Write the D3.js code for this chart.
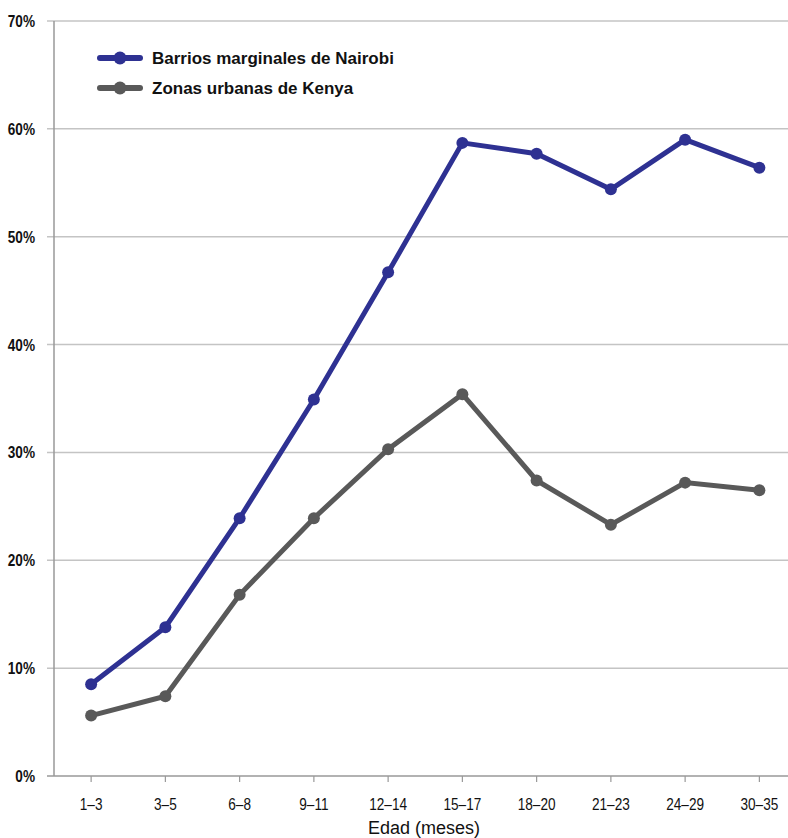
<!DOCTYPE html>
<html>
<head>
<meta charset="utf-8">
<script src="https://cdn.jsdelivr.net/npm/d3@7"></script>
<style>
  body { margin: 0; background: #fff; }
  .tick-y { font-family: "Liberation Sans", Arial, sans-serif; font-weight: bold; font-size: 17px; fill: #111; }
  .tick-x { font-family: "Liberation Sans", Arial, sans-serif; font-size: 17px; fill: #111; }
  .legend { font-family: "Liberation Sans", Arial, sans-serif; font-weight: bold; font-size: 17px; fill: #111; }
  .axis-title { font-family: "Liberation Sans", Arial, sans-serif; font-size: 18px; fill: #111; }
</style>
</head>
<body>
<svg id="chart" width="788" height="838"></svg>
<script>
// categories (age groups) and series values, in percent
const ages = ['1–3', '3–5', '6–8', '9–11', '12–14', '15–17', '18–20', '21–23', '24–29', '30–35'];
const nairobi = [8.5, 13.8, 23.9, 34.9, 46.7, 58.7, 57.7, 54.4, 59.0, 56.4];
const kenya = [5.6, 7.4, 16.8, 23.9, 30.3, 35.4, 27.4, 23.3, 27.2, 26.5];
const yTicks = [0, 10, 20, 30, 40, 50, 60, 70];

const seriesNames = ['Barrios marginales de Nairobi', 'Zonas urbanas de Kenya'];
const seriesColors = ['#2e3192', '#595959'];

const svg = d3.select('#chart');
const plotLeft = 54, plotRight = 796.5, plotTop = 21, plotBottom = 776;
const narrow = 0.8; // condensed look for tick labels

let x = d3.scalePoint()
    .domain(ages)
    .range([plotLeft, plotRight])
    .padding(0.5);

let y = d3.scaleLinear()
    .domain([0, 70])
    .range([plotBottom, plotTop]);

// gridlines
svg.selectAll('.grid')
    .data(yTicks.filter(d => d > 0))
    .enter()
    .append('line')
    .attr('x1', plotLeft - 7)
    .attr('x2', 788)
    .attr('y1', d => y(d))
    .attr('y2', d => y(d))
    .attr('stroke', '#c4c4c4')
    .attr('stroke-width', 1.5);

// y axis line
svg.append('line')
    .attr('x1', plotLeft).attr('x2', plotLeft)
    .attr('y1', plotTop).attr('y2', plotBottom)
    .attr('stroke', '#999').attr('stroke-width', 1.5);

// x axis line
svg.append('line')
    .attr('x1', plotLeft - 7).attr('x2', 788)
    .attr('y1', plotBottom).attr('y2', plotBottom)
    .attr('stroke', '#999').attr('stroke-width', 1.5);

// y labels
svg.selectAll('.tick-y')
    .data(yTicks)
    .enter()
    .append('text')
    .attr('class', 'tick-y')
    .attr('transform', d => 'translate(35,' + (y(d) + 6) + ') scale(' + narrow + ',1)')
    .attr('text-anchor', 'end')
    .text(d => d + '%');

// x ticks and labels
svg.selectAll('.xtick')
    .data(ages)
    .enter()
    .append('line')
    .attr('x1', d => x(d)).attr('x2', d => x(d))
    .attr('y1', plotBottom).attr('y2', plotBottom + 6)
    .attr('stroke', '#999').attr('stroke-width', 1.2);

svg.selectAll('.tick-x')
    .data(ages)
    .enter()
    .append('text')
    .attr('class', 'tick-x')
    .attr('transform', d => 'translate(' + x(d) + ',810) scale(' + narrow + ',1)')
    .attr('text-anchor', 'middle')
    .text(d => d);

svg.append('text')
    .attr('class', 'axis-title')
    .attr('x', 424)
    .attr('y', 834)
    .attr('text-anchor', 'middle')
    .text('Edad (meses)');

// lines
const line = d3.line()
    .x((d, i) => x(ages[i]))
    .y(d => y(d));

[nairobi, kenya].forEach(function(vals, k) {
    svg.append('path')
        .datum(vals)
        .attr('d', line)
        .attr('fill', 'none')
        .attr('stroke', seriesColors[k])
        .attr('stroke-width', 5);

    svg.selectAll('.dot' + k)
        .data(vals)
        .enter()
        .append('circle')
        .attr('cx', (d, i) => x(ages[i]))
        .attr('cy', d => y(d))
        .attr('r', 6)
        .attr('fill', seriesColors[k]);
});

// legend
seriesNames.forEach(function(name, k) {
    let ly = 58 + k * 30;
    svg.append('line')
        .attr('x1', 100).attr('x2', 140)
        .attr('y1', ly).attr('y2', ly)
        .attr('stroke', seriesColors[k])
        .attr('stroke-width', 6)
        .attr('stroke-linecap', 'round');
    svg.append('circle')
        .attr('cx', 120).attr('cy', ly).attr('r', 6.5)
        .attr('fill', seriesColors[k]);
    svg.append('text')
        .attr('class', 'legend')
        .attr('x', 152)
        .attr('y', ly + 6)
        .text(name);
});
</script>
</body>
</html>
